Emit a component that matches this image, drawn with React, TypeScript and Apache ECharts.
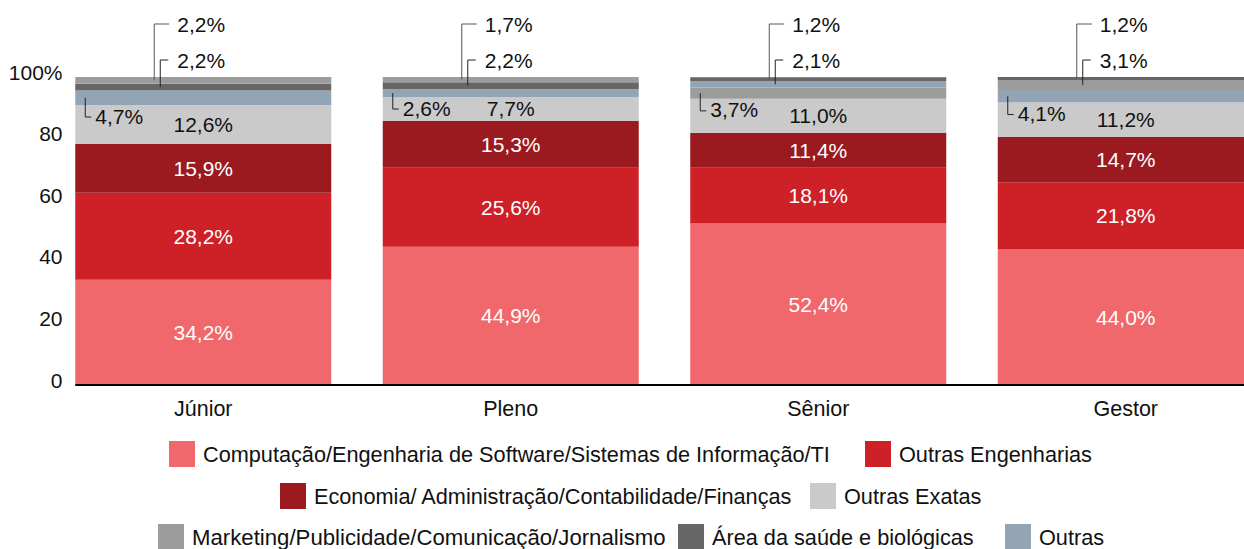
import React, { useEffect, useRef } from 'react';
import * as echarts from 'echarts';

const categories = ['Júnior', 'Pleno', 'Sênior', 'Gestor'];
const computacao = [34.2, 44.9, 52.4, 44.0];
const outrasEngenharias = [28.2, 25.6, 18.1, 21.8];
const economia = [15.9, 15.3, 11.4, 14.7];
const outrasExatas = [12.6, 7.7, 11.0, 11.2];
const marketing = [2.2, 1.7, 3.7, 3.1];
const saude = [2.2, 2.2, 1.2, 1.2];
const outras = [4.7, 2.6, 2.1, 4.1];

const N_COMP = 'Computação/Engenharia de Software/Sistemas de Informação/TI';
const N_ENG = 'Outras Engenharias';
const N_ECO = 'Economia/ Administração/Contabilidade/Finanças';
const N_EXA = 'Outras Exatas';
const N_MKT = 'Marketing/Publicidade/Comunicação/Jornalismo';
const N_SAU = 'Área da saúde e biológicas';
const N_OUT = 'Outras';

const C_COMP = '#F0686B';
const C_ENG = '#CD2027';
const C_ECO = '#9A1A20';
const C_EXA = '#CACACA';
const C_MKT = '#9C9C9C';
const C_SAU = '#666666';
const C_OUT = '#93A5B5';

const FONT = '"Liberation Sans", Arial, Helvetica, sans-serif';
const fmt = (v: number) => v.toFixed(1).replace('.', ',') + '%';

export default function App() {
  const ref = useRef<HTMLDivElement>(null);
  useEffect(() => {
    if (!ref.current) return;
    const chart = echarts.init(ref.current, undefined, { renderer: 'svg' });

    // top three small groups, sorted descending per bar (bottom to top)
    const slots = categories.map((_, i) => {
      const g = [
        { v: outras[i], c: C_OUT },
        { v: saude[i], c: C_SAU },
        { v: marketing[i], c: C_MKT },
      ];
      return g.slice().sort((a, b) => b.v - a.v);
    });

    const insideLabel = (color: string) => ({
      show: true,
      position: 'inside',
      color,
      fontSize: 21,
      fontFamily: FONT,
      formatter: (p: any) => fmt(p.value),
    });

    const series: any[] = [
      { name: N_COMP, type: 'bar', stack: 'total', data: computacao, itemStyle: { color: C_COMP }, label: insideLabel('#ffffff') },
      { name: N_ENG, type: 'bar', stack: 'total', data: outrasEngenharias, itemStyle: { color: C_ENG }, label: insideLabel('#ffffff') },
      { name: N_ECO, type: 'bar', stack: 'total', data: economia, itemStyle: { color: C_ECO }, label: insideLabel('#ffffff') },
      { name: N_EXA, type: 'bar', stack: 'total', data: outrasExatas, itemStyle: { color: C_EXA }, label: insideLabel('#111111') },
    ];
    for (let k = 0; k < 3; k++) {
      series.push({
        name: 'slot' + k,
        type: 'bar',
        stack: 'total',
        data: slots.map((s) => ({ value: s[k].v, itemStyle: { color: s[k].c } })),
      });
    }
    series.push(
      { name: N_MKT, type: 'bar', stack: 'total', data: [], itemStyle: { color: C_MKT } },
      { name: N_SAU, type: 'bar', stack: 'total', data: [], itemStyle: { color: C_SAU } },
      { name: N_OUT, type: 'bar', stack: 'total', data: [], itemStyle: { color: C_OUT } },
    );

    const legendItem = (name: string, left: number, top: number, fs: number) => ({
      orient: 'horizontal',
      icon: 'rect',
      itemWidth: 26,
      itemHeight: 26,
      padding: 0,
      left,
      top,
      selectedMode: false,
      data: [name],
      textStyle: { fontSize: fs, color: '#111111', fontFamily: FONT, padding: [0, 0, 0, 3] },
    });

    chart.setOption({
      animation: false,
      textStyle: { fontFamily: FONT },
      grid: { left: 49.5, top: 77, width: 1230, height: 308, containLabel: false },
      xAxis: {
        type: 'category',
        data: categories,
        axisLine: { show: false },
        axisTick: { show: false },
        axisLabel: { fontSize: 21.5, color: '#111111', margin: 13, fontFamily: FONT },
      },
      yAxis: {
        type: 'value',
        min: 0,
        max: 100,
        interval: 20,
        axisLine: { show: false },
        axisTick: { show: false },
        splitLine: { show: false },
        axisLabel: {
          fontSize: 21,
          color: '#111111',
          margin: -13,
          fontFamily: FONT,
          verticalAlign: 'bottom',
          lineHeight: 10,
          formatter: (v: number) => (v === 100 ? '100%' : String(v)),
        },
      },
      legend: [
        legendItem(N_COMP, 169, 441, 21.7),
        legendItem(N_ENG, 865, 441, 21.7),
        legendItem(N_ECO, 280, 483, 21.7),
        legendItem(N_EXA, 810, 483, 21.7),
        legendItem(N_MKT, 158, 524, 22.2),
        legendItem(N_SAU, 678, 524, 21.7),
        legendItem(N_OUT, 1005, 524, 21.7),
      ],
      series: series.map((s) => ({ ...s, barWidth: 256 })),
    });

    const px = (i: number, v: number) => chart.convertToPixel({ gridIndex: 0 } as any, [i, v]) as number[];
    const graphics: any[] = [];
    const lineStyle = { stroke: '#222222', lineWidth: 1 };
    const textEl = (x: number, y: number, t: string) => ({
      type: 'text',
      x,
      y,
      z: 100,
      style: { text: t, fontSize: 21, fontFamily: FONT, fill: '#111111', verticalAlign: 'middle', align: 'left' },
    });

    categories.forEach((_, i) => {
      const base = computacao[i] + outrasEngenharias[i] + economia[i] + outrasExatas[i];
      const s = slots[i];
      const [xc, yBase] = px(i, base);
      const xl = xc - 128;
      const y100 = px(i, 100)[1];
      // slot 0: lower-left elbow label
      const m0 = px(i, base + s[0].v / 2)[1];
      const yt0 = yBase + 11;
      graphics.push({ type: 'polyline', z: 100, shape: { points: [[xl + 10, m0], [xl + 10, yt0 + 1], [xl + 16, yt0 + 1]] }, style: lineStyle });
      graphics.push(textEl(xl + 20, yt0, fmt(s[0].v)));
      // slot 1
      const m1 = px(i, base + s[0].v + s[1].v / 2)[1];
      const yt1 = y100 - 17;
      graphics.push({ type: 'polyline', z: 100, shape: { points: [[xc - 43, m1], [xc - 43, yt1], [xc - 35, yt1]] }, style: lineStyle });
      graphics.push(textEl(xc - 26, yt1, fmt(s[1].v)));
      // slot 2
      const m2 = px(i, base + s[0].v + s[1].v + s[2].v / 2)[1];
      const yt2 = y100 - 53;
      graphics.push({ type: 'polyline', z: 100, shape: { points: [[xc - 49, m2], [xc - 49, yt2], [xc - 34, yt2]] }, style: { stroke: '#555555', lineWidth: 1 } });
      graphics.push(textEl(xc - 26, yt2, fmt(s[2].v)));
    });

    const [x0c, y0] = px(0, 0);
    graphics.push({ type: 'line', z: 100, shape: { x1: x0c - 128, y1: y0, x2: 1290, y2: y0 }, style: { stroke: '#000000', lineWidth: 2 } });

    chart.setOption({ graphic: graphics });

    return () => chart.dispose();
  }, []);

  return (
    <div style={{ position: 'fixed', left: 0, top: 0, width: 1244, height: 549, overflow: 'hidden', background: '#ffffff' }}>
      <div ref={ref} style={{ position: 'absolute', left: 0, top: 0, width: 1290, height: 549 }} />
    </div>
  );
}
